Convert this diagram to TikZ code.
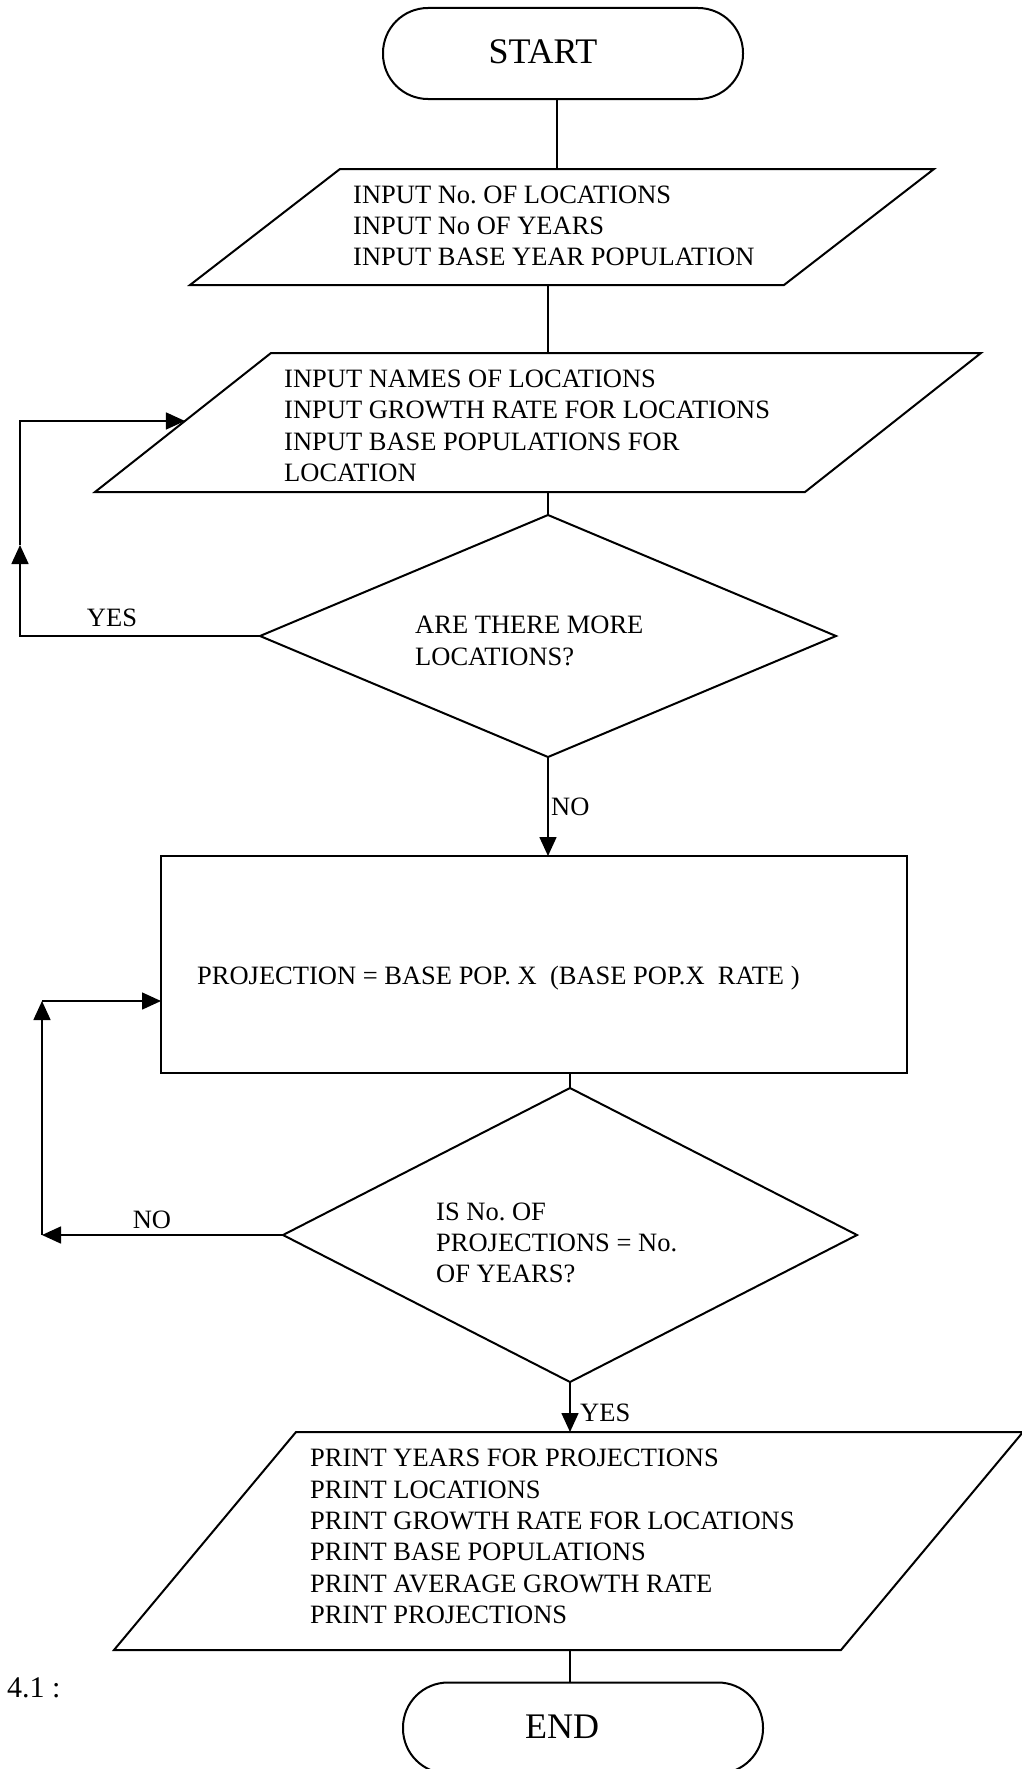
\documentclass[tikz,border=0pt]{standalone}
\usepackage{fontspec}
\setmainfont{Liberation Serif}
\usetikzlibrary{arrows.meta,shapes.geometric,calc}
\frenchspacing

% outline of a slanted input/output box drawn around a sized frame node
\newcommand\slantoutline[2]{%
  \draw[outline] ([xshift=#2]#1.north west) -- (#1.north east)
    -- ([xshift=-#2]#1.south east) -- (#1.south west) -- cycle;}

\begin{document}
\begin{tikzpicture}[x=1pt,y=-1pt,
  outline/.style={draw=black, line width=2pt, line join=miter},
  terminal/.style={outline, rectangle, rounded corners=45pt,
    minimum width=360pt, minimum height=91pt, inner sep=0pt, outer sep=0pt},
  ioframe/.style={rectangle, inner sep=0pt, outer sep=0pt},
  process/.style={outline, rectangle, inner sep=0pt, outer sep=0pt},
  decision/.style={outline, diamond, inner sep=0pt, outer sep=0pt},
  body/.style={font=\fontsize{26.5}{31.3}\selectfont, align=left,
    inner sep=0pt, anchor=west},
  big/.style={font=\fontsize{36}{40}\selectfont, inner sep=0pt},
  flow/.style={draw=black, line width=1.6pt},
  arr/.style={flow, -{Triangle[length=19pt,width=17pt]}},
]
\useasboundingbox (0,0) rectangle (1021,1769);

% ---- start ----
\node[terminal] (start) at (563,53.5) {};
\node[big] (starttext) at (543,52) {START};

% ---- first input ----
\node[ioframe, minimum width=744pt, minimum height=116pt] (in1) at (562,227) {};
\slantoutline{in1}{150pt}
\node[body] (in1text) at (353,226)
  {INPUT No. OF LOCATIONS\\INPUT No OF YEARS\\INPUT BASE YEAR POPULATION};

% ---- second input ----
\node[ioframe, minimum width=886pt, minimum height=139pt] (in2) at (538,422.5) {};
\slantoutline{in2}{176pt}
\node[body] (in2text) at (284,426)
  {INPUT NAMES OF LOCATIONS\\INPUT GROWTH RATE FOR LOCATIONS\\INPUT BASE POPULATIONS FOR\\LOCATION};

% ---- first decision ----
\node[decision, minimum width=576pt, minimum height=242pt] (more) at (548,636) {};
\node[body] (moretext) at (415,641) {ARE THERE MORE\\LOCATIONS?};

% ---- projection ----
\node[process, minimum width=746pt, minimum height=217pt] (proj) at (534,964.5) {};
\node[body] (projtext) at (197,978)
  {PROJECTION = BASE POP. X\ \ (BASE POP.X\ \ RATE )};

% ---- second decision ----
\node[decision, minimum width=574pt, minimum height=294pt] (done) at (570,1235) {};
\node[body] (donetext) at (436,1243) {IS No. OF\\PROJECTIONS = No.\\OF YEARS?};

% ---- output ----
\node[ioframe, minimum width=909pt, minimum height=218pt] (out) at (568.5,1541) {};
\slantoutline{out}{182pt}
\node[body] (outtext) at (310,1536.5)
  {PRINT YEARS FOR PROJECTIONS\\PRINT LOCATIONS\\PRINT GROWTH RATE FOR LOCATIONS\\PRINT BASE POPULATIONS\\PRINT AVERAGE GROWTH RATE\\PRINT PROJECTIONS};

% ---- end ----
\node[terminal] (stop) at (583,1728) {};
\node[big] (stoptext) at (562,1727) {END};

\node[font=\fontsize{30}{34}\selectfont, inner sep=0pt, anchor=west] (figno) at (7,1688) {4.1 :};

% ---- main flow ----
\draw[flow] ([xshift=-6pt]start.south) -- ([xshift=-6pt]start.south |- in1.north);
\draw[flow] (more.north |- in1.south) -- (more.north |- in2.north);
\draw[flow] (more.north |- in2.south) -- (more.north);
\draw[arr] (more.south) -- (more.south |- proj.north);
\node[body] (nolabel) at (551,807) {NO};
\draw[flow] (done.north |- proj.south) -- (done.north);
\draw[arr] (done.south) -- (done.south |- out.north);
\node[body] (yeslabel) at (580,1413) {YES};
\draw[flow] (done.south |- out.south) -- (done.south |- stop.north);

% ---- loop back for more locations ----
\coordinate (yeslow) at (20,636);
\coordinate (yesmid) at (20,545);
\coordinate (yesin) at ($([xshift=176pt]in2.north west)!0.489!(in2.south west)$);
\draw[arr] (more.west) -- (yeslow) -- (yesmid);
\draw[arr] (yesmid) -- (yeslow |- yesin) -- (yesin);
\node[body, anchor=center] (yesloop) at (112,618) {YES};

% ---- loop back for more projections ----
\coordinate (noup) at (42,1001);
\draw[arr] (done.west) -- (done.west -| noup);
\draw[arr] (done.west -| noup) -- (noup);
\draw[arr] (noup) -- (noup -| proj.west);
\node[body, anchor=center] (noloop) at (152,1220) {NO};
\end{tikzpicture}
\end{document}
